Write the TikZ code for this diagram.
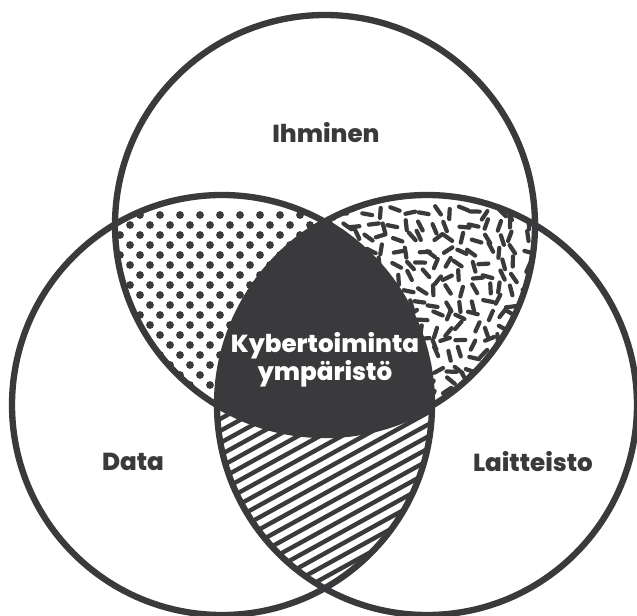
\documentclass[tikz,border=0pt]{standalone}
\usepackage{fontspec}
\setmainfont{Poppins}[BoldFont={Poppins ExtraBold}]
\usepackage{tikz}
\usetikzlibrary{calc}

\definecolor{venngray}{HTML}{3A3A3C}

\begin{document}
\begin{tikzpicture}[x=0.02cm, y=-0.02cm,
    ring/.style={venngray, line width=3.6pt},
    venntext/.style={text=venngray, font=\bfseries\fontsize{14}{13}\selectfont},
    spot/.style={fill=venngray},
    sprinkle/.style={venngray, line width=2.4pt, line cap=round},
    hatch/.style={venngray, line width=2.5pt}]
    \useasboundingbox (0,0) rectangle (637,616);

    % Define centers and radius
    \def\rad{210}
    \coordinate (T) at (325,225);
    \coordinate (BL) at (222,405);
    \coordinate (BR) at (427,405);

    % Dots: Ihminen and Data
    \begin{scope}
        \clip (T) circle (\rad);
        \clip (BL) circle (\rad);
        \foreach \row in {0,...,22} {
            \pgfmathsetmacro{\yy}{215+10*\row}
            \pgfmathsetmacro{\off}{mod(\row,2)*10}
            \foreach \col in {0,...,12}
                \fill[spot] (100+\off+20*\col, \yy) circle (3.9);
        }
    \end{scope}

    % Sprinkles: Ihminen and Laitteisto
    \pgfmathsetseed{42}
    \begin{scope}
        \clip (T) circle (\rad);
        \clip (BR) circle (\rad);
        \foreach \x in {318,331,...,548}
            \foreach \y in {212,225,...,440} {
                \pgfmathsetmacro{\ang}{180*rnd}
                \pgfmathsetmacro{\jx}{\x+4*rand}
                \pgfmathsetmacro{\jy}{\y+4*rand}
                \draw[sprinkle] (\jx,\jy) ++(\ang:5) -- ++(\ang+180:10);
            }
    \end{scope}

    % Hatch: Data and Laitteisto
    \begin{scope}
        \clip (BL) circle (\rad);
        \clip (BR) circle (\rad);
        \foreach \c in {480,492,...,900}
            \draw[hatch] (200,\c-110) -- (460,\c-253);
    \end{scope}

    % Dark center: all three
    \begin{scope}
        \clip (T) circle (\rad);
        \clip (BL) circle (\rad);
        \fill[venngray] (BR) circle (\rad);
    \end{scope}

    % Draw circles
    \draw[ring] (T) circle (\rad);
    \draw[ring] (BL) circle (\rad);
    \draw[ring] (BR) circle (\rad);

    % Labels
    \node[venntext] (ihminen) at (326,133) {Ihminen};
    \node[venntext] (data) at (133,462) {Data};
    \node[venntext] (laitteisto) at (533,462) {Laitteisto};
    \node[venntext, text=white, align=center] (kyber) at (325,360) {Kybertoiminta\\ympäristö};
\end{tikzpicture}
\end{document}
